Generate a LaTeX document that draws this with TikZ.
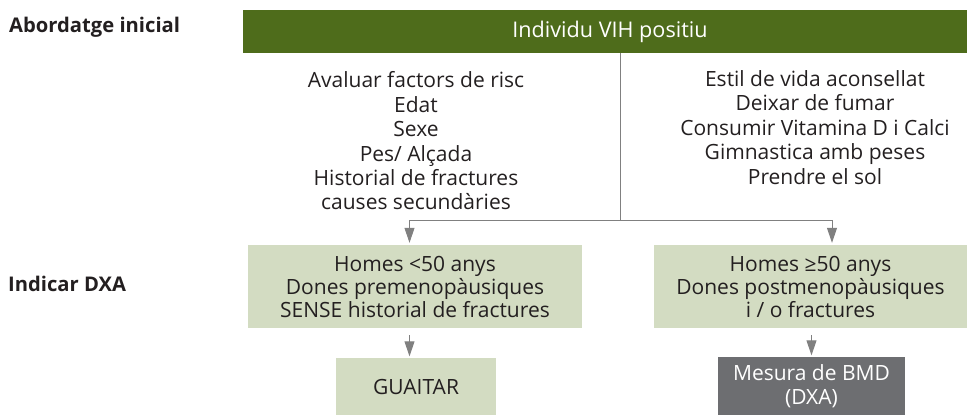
\documentclass[tikz,border=0pt]{standalone}
\usepackage{fontspec}
\setmainfont{Open Sans}
\usepackage{tikz}
\usetikzlibrary{arrows.meta}
\definecolor{verdfosc}{HTML}{4E6C1B}
\definecolor{verdclar}{HTML}{D3DCC2}
\definecolor{grisfosc}{HTML}{6D6E71}
\definecolor{grislinia}{HTML}{808080}
\definecolor{textfosc}{HTML}{231F20}
\tikzstyle{titol}=[anchor=west,inner sep=0pt,
font=\bfseries\fontsize{20.2}{23}\selectfont,text=textfosc]
\tikzstyle{barra}=[rectangle,fill=verdfosc,inner sep=0pt,
minimum width=724pt,minimum height=43pt,
text=white,font=\fontsize{21.6}{24}\selectfont]
\tikzstyle{llista}=[inner sep=0pt,align=center,
text=textfosc,font=\fontsize{21}{24.4}\selectfont]
\tikzstyle{caixa}=[rectangle,fill=verdclar,inner sep=0pt,align=center,
text=textfosc,font=\fontsize{21}{23}\selectfont]
\tikzstyle{fosca}=[caixa,fill=grisfosc,text=white,
font=\fontsize{21}{24}\selectfont]
\tikzstyle{linia}=[draw=grislinia,line width=1pt]
\tikzstyle{fletxa}=[linia,-{Triangle[length=15pt,width=10pt]}]

\begin{document}
\begin{tikzpicture}[x=1pt,y=-1pt]
\useasboundingbox (0,0) rectangle (967,415);
\node[titol] (abord) at (9,27) {Abordatge inicial};
\node[titol] (dxa) at (8,284) {Indicar DXA};
\node[barra] (vih) at (605,31.5) {\hspace*{10pt}Individu VIH positiu};

\node[llista] (risc) at (416,141) {Avaluar factors de risc\\Edat\\Sexe\\Pes/ Alçada\\Historial de fractures\\causes secundàries};
\node[llista] (estil) at (815,127.5) {Estil de vida aconsellat\\Deixar de fumar\\Consumir Vitamina D i Calci\\Gimnastica amb peses\\Prendre el sol};

\node[caixa,minimum width=334pt,minimum height=83pt] (joves) at (415,286.5) {Homes <50 anys\\Dones premenopàusiques\\SENSE historial de fractures};
\node[caixa,minimum width=313pt,minimum height=83pt] (grans) at (810.5,286.5) {Homes ≥50 anys\\Dones postmenopàusiques\\i / o fractures};
\node[caixa,minimum width=160pt,minimum height=57pt] (guaitar) at (416,386.5) {GUAITAR};
\node[fosca,minimum width=187pt,minimum height=58pt] (bmd) at (811.5,386) {Mesura de BMD\\(DXA)};

\coordinate (bif) at (620,220.5);
\coordinate (fe) at (409.5,220.5);
\coordinate (fd) at (832,220.5);
\draw[linia] (bif |- vih.south)--(bif);
\draw[fletxa,shorten >=2pt] (bif)--(fe)--(fe |- joves.north);
\draw[fletxa,shorten >=2pt] (bif)--(fd)--(fd |- grans.north);
\draw[fletxa,shorten <=7pt,shorten >=1.5pt] (fe |- joves.south)--(fe |- guaitar.north);
\draw[fletxa,shorten <=7pt,shorten >=1.5pt] (bmd.north |- grans.south)--(bmd.north);
\end{tikzpicture}
\end{document}
